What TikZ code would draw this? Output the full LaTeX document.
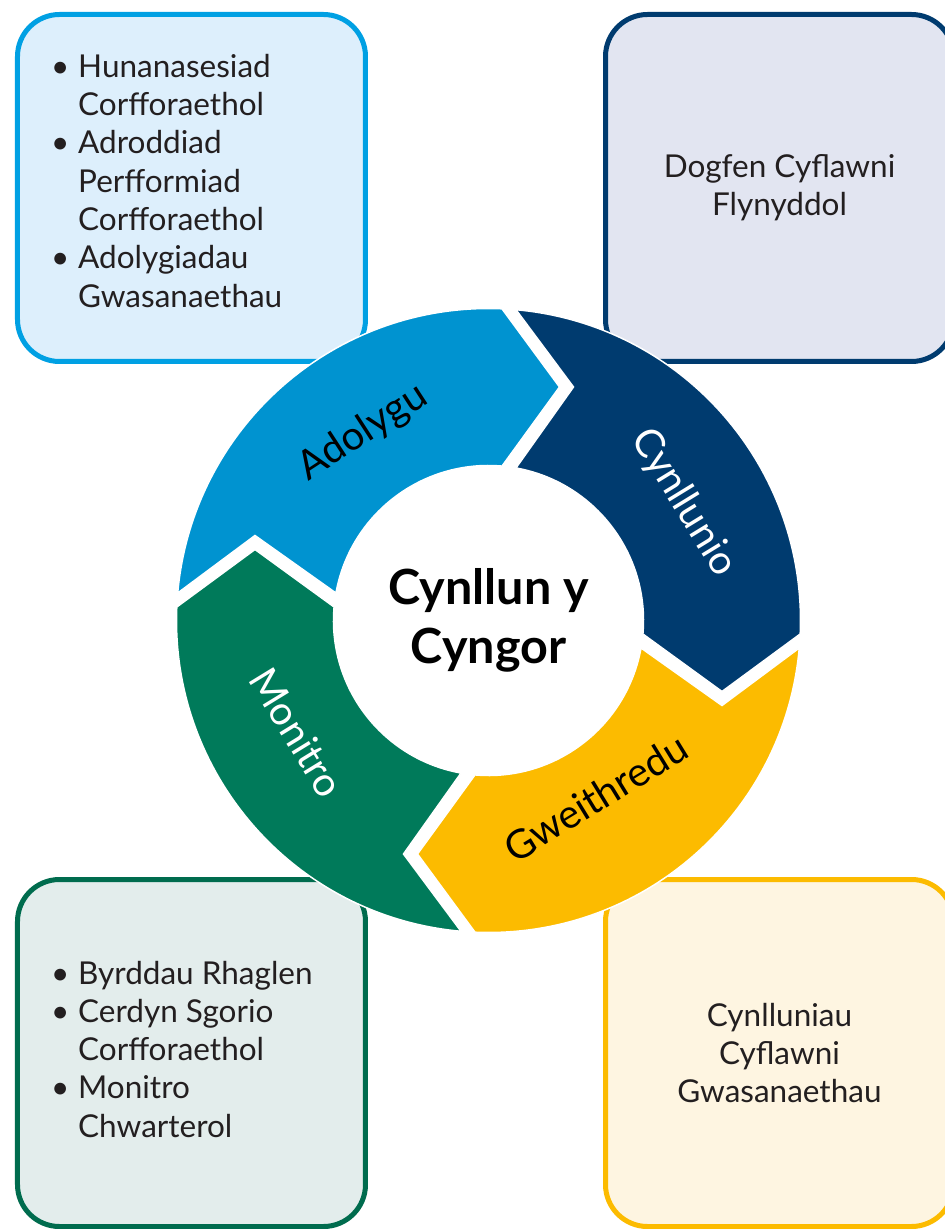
\documentclass[tikz,border=0pt]{standalone}
\usepackage{fontspec}
\setmainfont{Lato}
\usetikzlibrary{positioning}

\definecolor{adolygucol}{HTML}{0093D0}
\definecolor{cynlluniocol}{HTML}{003B6F}
\definecolor{gweithreducol}{HTML}{FCBB00}
\definecolor{monitrocol}{HTML}{007A5A}
\definecolor{tlfill}{HTML}{DDEFFC}
\definecolor{tlline}{HTML}{00A0E3}
\definecolor{trfill}{HTML}{E2E5F1}
\definecolor{blfill}{HTML}{E3EDEC}
\definecolor{blline}{HTML}{006C4E}
\definecolor{brfill}{HTML}{FEF5E1}
\definecolor{txt}{HTML}{231F20}

\newcommand{\bul}{\makebox[27pt][l]{\textbullet}}

\begin{document}
\begin{tikzpicture}[x=1pt, y=1pt,
    box/.style={draw, line width=5pt, rounded corners=42pt, minimum width=348pt,
      minimum height=347pt, inner sep=0pt, text=txt, align=center,
      font=\fontsize{31.5}{38.3}\selectfont},
    listtext/.style={inner sep=0pt, text=txt, font=\fontsize{31.5}{38.3}\selectfont},
    ringtext/.style={inner sep=0pt, font=\fontsize{40}{48}\selectfont},
    segment/.style={draw=white, line width=1.5pt}]

  \clip (-488.5,-608.5) rectangle (456.5,620.5);
  \fill[white] (-488.5,-608.5) rectangle (456.5,620.5);

  \node[box, draw=tlline, fill=tlfill] (tl) at (-297,432.5) {};
  \node[box, draw=cynlluniocol, fill=trfill] (tr) at (291,432.5) {Dogfen Cyflawni\\Flynyddol};
  \node[box, draw=blline, fill=blfill] (bl) at (-297,-432.5) {};
  \node[box, draw=gweithreducol, fill=brfill] (br) at (291,-432.5) {Cynlluniau\\Cyflawni\\Gwasanaethau};

  \node[listtext, right=36pt of tl.west, yshift=3.5pt] (tllist) {%
    \begin{tabular}{@{}l@{}l@{}}
      \bul & Hunanasesiad\\
           & Corfforaethol\\
      \bul & Adroddiad\\
           & Perfformiad\\
           & Corfforaethol\\
      \bul & Adolygiadau\\
           & Gwasanaethau
    \end{tabular}};
  \node[listtext, right=36pt of bl.west] (bllist) {%
    \begin{tabular}{@{}l@{}l@{}}
      \bul & Byrddau Rhaglen\\
      \bul & Cerdyn Sgorio\\
           & Corfforaethol\\
      \bul & Monitro\\
           & Chwarterol
    \end{tabular}};

  \foreach \turn/\col in {0/adolygucol, -90/cynlluniocol, -180/gweithreducol, -270/monitrocol}
    \path[segment, fill=\col, rotate=\turn]
      (174.94:312) arc[start angle=174.94, end angle=87.52, radius=312]
      -- (71,233.5) -- (85:155)
      arc[start angle=85, end angle=169.78, radius=155]
      -- (-233.5,85) -- cycle;

  \begin{scope}[every node/.style={ringtext}]
    \node[rotate=33] (adol) at (123.7:226) {Adolygu};
    \node[text=white, rotate=-58.5] (cynl) at (31.2:228) {Cynllunio};
    \node[rotate=31.5] (gweith) at (-58.8:207) {Gweithredu};
    \node[text=white, rotate=-58.5] (monit) at (210.3:222) {Monitro};
  \end{scope}

  \node[align=center, font=\bfseries\fontsize{48.5}{59}\selectfont] (cynllun) at (0,0) {Cynllun y\\Cyngor};

\end{tikzpicture}
\end{document}
